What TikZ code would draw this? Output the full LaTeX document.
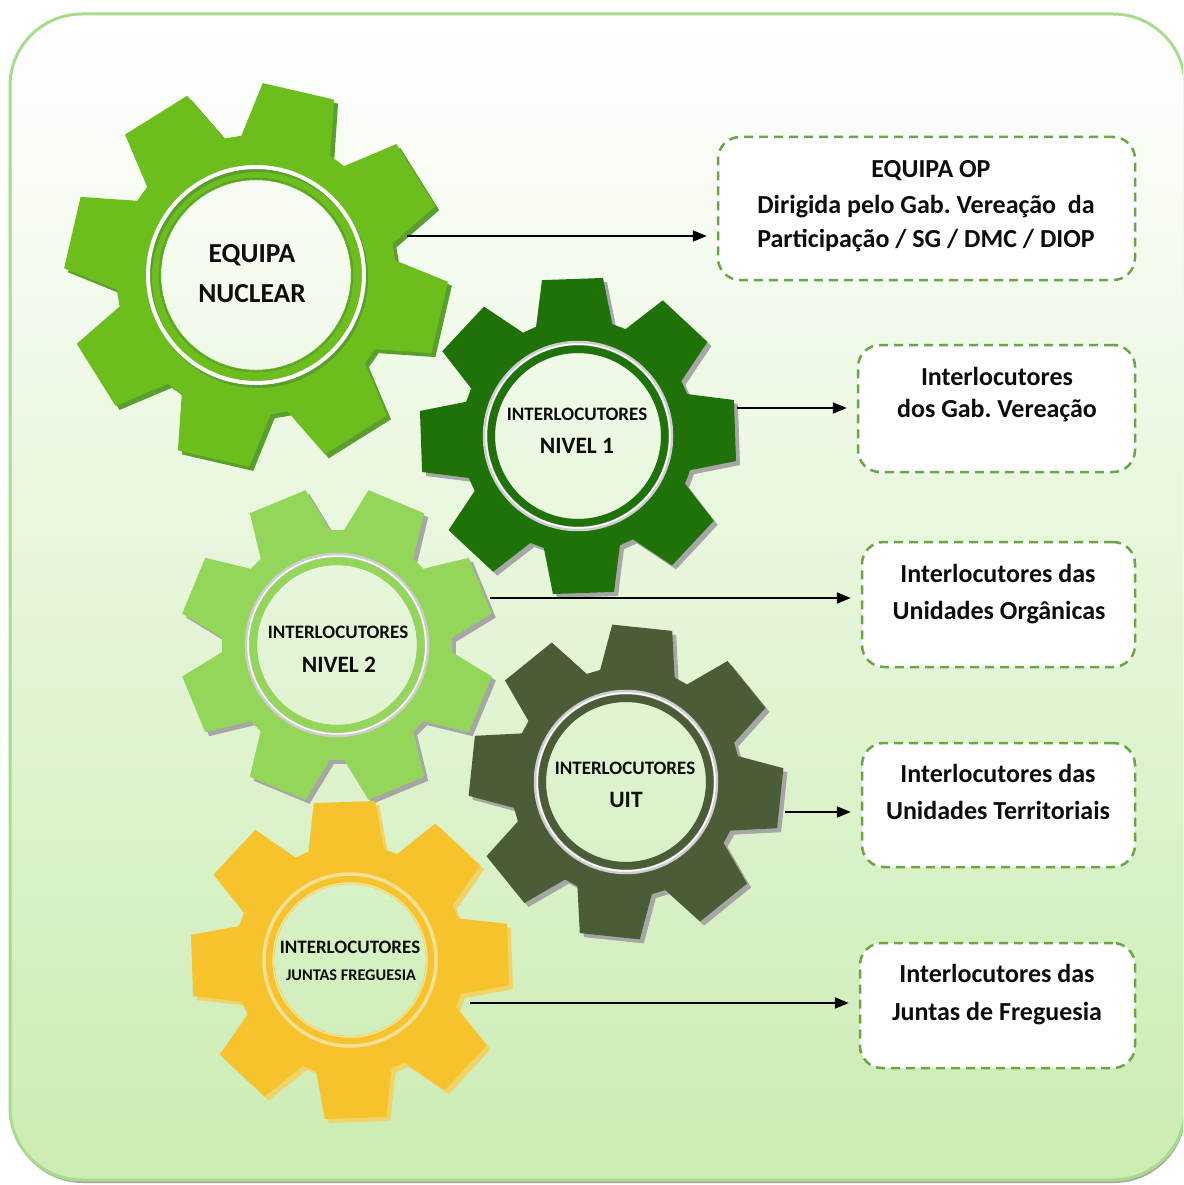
\documentclass[tikz,border=0pt]{standalone}
\usepackage{fontspec}
\setmainfont{Carlito}
\frenchspacing
\usetikzlibrary{arrows.meta,calc}
\definecolor{gA}{HTML}{6CBE1C}
\definecolor{gAsh}{HTML}{5A9E2E}
\definecolor{gB}{HTML}{1E7208}
\definecolor{gC}{HTML}{93D65A}
\definecolor{gD}{HTML}{4A5D37}
\definecolor{gE}{HTML}{F6C32D}
\definecolor{gEsh}{HTML}{EFD468}
\definecolor{shgrey}{HTML}{A6A6A6}
\definecolor{ringgrey}{HTML}{CDCDCD}
\definecolor{dashgreen}{HTML}{6BA646}
\definecolor{framegreen}{HTML}{A8DC8C}
\definecolor{bgbottom}{HTML}{CBECB2}
\newcommand\gearpath[3]{({#3-22.5}:#2pt) \foreach \k in {0,...,7}{ -- ({#3+45*\k-19}:#2pt) -- ({#3+45*\k-11}:#1pt) -- ({#3+45*\k+11}:#1pt) -- ({#3+45*\k+19}:#2pt)} -- cycle}
% #1 cx #2 cy #3 tip #4 root #5 rot #6 inner radius #7 fill #8 shadow
\newcommand\drawgear[8]{%
  \fill[#8, even odd rule, shift={(#1+4,#2+4)}] \gearpath{#3}{#4}{#5} (-4,-4) circle[radius=#6pt];
  \fill[#7, even odd rule, shift={(#1,#2)}] \gearpath{#3}{#4}{#5} (0,0) circle[radius=#6pt];
}
\tikzset{
  box/.style={draw=dashgreen, line width=2.5pt, dash pattern=on 9pt off 6pt, fill=white, rounded corners=22pt, inner sep=0pt},
  boxtxt/.style={anchor=base, inner sep=0pt, font=\fontsize{26}{30}\selectfont\bfseries, text=black!95},
  geartxt/.style={anchor=base, inner sep=0pt, text=black!95},
  arr/.style={line width=2pt, -{Triangle[length=14pt,width=11pt]}, shorten >=10pt},
}
\begin{document}
\begin{tikzpicture}[x=1pt,y=-1pt]
\useasboundingbox (0,0) rectangle (1183,1185);
% background frame
\begin{scope}
\clip (0,0) rectangle (1183,1185);
\fill[white] (0,0) rectangle (1183,1185);
\fill[black!35, rounded corners=72pt] (11,17) rectangle (1186,1183);
\shade[top color=white, bottom color=bgbottom, rounded corners=72pt, draw=framegreen, line width=3pt] (10,14) rectangle (1185,1180);
\end{scope}
% gear centres
\coordinate (g1) at (256,275);
\coordinate (g2) at (578,436);
\coordinate (g3) at (337,645);
\coordinate (g4) at (626,782);
\coordinate (g5) at (350,960);
% gear 1
\drawgear{256}{275}{192}{140}{77}{95}{gA}{gAsh}
\draw[gAsh, line width=1.5pt] (g1) circle[radius=96.5pt];
\draw[gAsh, line width=4pt] ($(g1)+(2,3)$) circle[radius=108pt];
\draw[white, line width=4pt] (g1) circle[radius=108pt];
% gear 2
\drawgear{578}{436}{160}{117}{2}{83}{gB}{shgrey}
\draw[ringgrey, line width=4.5pt] (g2) circle[radius=93pt];
\draw[white, line width=1.5pt] (g2) circle[radius=92pt];
% gear 3
\drawgear{337}{645}{158}{115}{22.5}{80}{gC}{shgrey}
\draw[ringgrey, line width=4.5pt] (g3) circle[radius=90pt];
\draw[white, line width=1.5pt] (g3) circle[radius=89pt];
% gear 4
\drawgear{626}{782}{158}{115}{84}{80}{gD}{shgrey}
\draw[ringgrey, line width=4.5pt] (g4) circle[radius=90pt];
\draw[white, line width=1.5pt] (g4) circle[radius=89pt];
% gear 5
\drawgear{350}{960}{161}{116}{2}{76}{gE}{gEsh}
\draw[gEsh!70!white, line width=3.5pt] (g5) circle[radius=86pt];
\draw[gEsh!70!white, line width=1.5pt] (g5) circle[radius=77pt];
% gear texts
\node[geartxt, font=\fontsize{27.5}{30}\selectfont\bfseries] (t1a) at (252,262) {EQUIPA};
\node[geartxt, font=\fontsize{27.5}{30}\selectfont\bfseries] (t1b) at (252,302) {NUCLEAR};
\node[geartxt, font=\fontsize{19}{22}\selectfont\bfseries] (t2a) at (577,420) {INTERLOCUTORES};
\node[geartxt, font=\fontsize{23.5}{26}\selectfont\bfseries] (t2b) at (577,453) {NIVEL 1};
\node[geartxt, font=\fontsize{19}{22}\selectfont\bfseries] (t3a) at (338,638) {INTERLOCUTORES};
\node[geartxt, font=\fontsize{23.5}{26}\selectfont\bfseries] (t3b) at (339,672) {NIVEL 2};
\node[geartxt, font=\fontsize{19}{22}\selectfont\bfseries] (t4a) at (625,774) {INTERLOCUTORES};
\node[geartxt, font=\fontsize{23.5}{26}\selectfont\bfseries] (t4b) at (626,807) {UIT};
\node[geartxt, font=\fontsize{19}{22}\selectfont\bfseries] (t5a) at (350,953) {INTERLOCUTORES};
\node[geartxt, font=\fontsize{16.3}{20}\selectfont\bfseries] (t5b) at (351,980) {JUNTAS FREGUESIA};
% boxes
\node[box, minimum width=417pt, minimum height=143pt] (b1) at (926.5,208.5) {};
\node[box, minimum width=277pt, minimum height=127pt] (b2) at (996.5,408.5) {};
\node[box, minimum width=273pt, minimum height=125pt] (b3) at (998.5,604.5) {};
\node[box, minimum width=273pt, minimum height=124pt] (b4) at (998.5,805) {};
\node[box, minimum width=275pt, minimum height=125pt] (b5) at (997.5,1005.5) {};
% box texts
\node[boxtxt] (b1a) at (931,178) {EQUIPA OP};
\node[boxtxt] (b1b) at (926,213) {Dirigida pelo Gab. Vereação\ \ da};
\node[boxtxt] (b1c) at (926,247) {Participação / SG / DMC / DIOP};
\node[boxtxt] (b2a) at (997,385) {Interlocutores};
\node[boxtxt] (b2b) at (997,417) {dos Gab. Vereação};
\node[boxtxt] (b3a) at (998,582) {Interlocutores das};
\node[boxtxt] (b3b) at (999,619) {Unidades Orgânicas};
\node[boxtxt] (b4a) at (998,782) {Interlocutores das};
\node[boxtxt] (b4b) at (998,819) {Unidades Territoriais};
\node[boxtxt] (b5a) at (997,982) {Interlocutores das};
\node[boxtxt] (b5b) at (997,1020) {Juntas de Freguesia};
% arrows
\coordinate (s1) at (407,236);
\coordinate (s2) at (737,408);
\coordinate (s3) at (490,598);
\coordinate (s4) at (785,812);
\coordinate (s5) at (470,1003);
\draw[arr] (s1) -- (s1 -| b1.west);
\draw[arr] (s2) -- (s2 -| b2.west);
\draw[arr] (s3) -- (s3 -| b3.west);
\draw[arr] (s4) -- (s4 -| b4.west);
\draw[arr] (s5) -- (s5 -| b5.west);
\end{tikzpicture}
\end{document}
